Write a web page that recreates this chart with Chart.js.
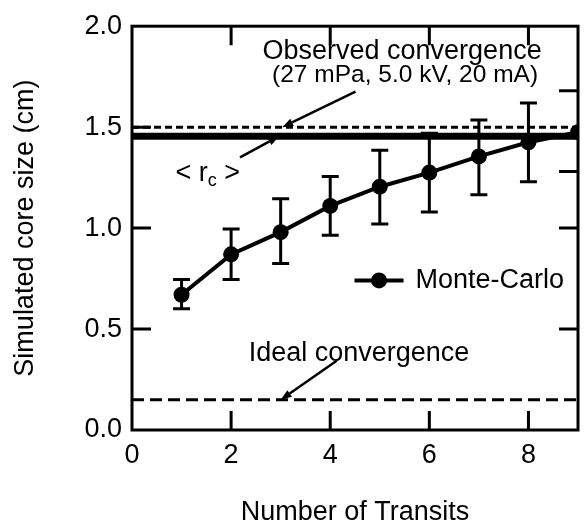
<!DOCTYPE html>
<html>
<head>
<meta charset="utf-8">
<script src="https://cdn.jsdelivr.net/npm/chart.js@4/dist/chart.umd.min.js"></script>
<style>
  html, body { margin: 0; padding: 0; background: #fff; }
  #wrap { width: 586px; height: 531px; position: relative; }
</style>
</head>
<body>
<div id="wrap"><canvas id="c"></canvas></div>
<script>
// Monte-Carlo simulated core size versus number of transits
const transits = [1, 2, 3, 4, 5, 6, 7, 8, 9];
const coreSize = [0.67, 0.87, 0.98, 1.11, 1.205, 1.275, 1.355, 1.425, 1.475];
const errLow   = [0.60, 0.745, 0.825, 0.965, 1.02, 1.08, 1.165, 1.23, null];
const errHigh  = [0.745, 0.995, 1.145, 1.255, 1.385, 1.47, 1.535, 1.62, null];

// reference levels
const observedLevel = 1.5;   // observed convergence
const meanCoreLevel = 1.455; // <r_c>
const idealLevel = 0.15;     // ideal convergence

// axis ticks
const xTicks = [0, 2, 4, 6, 8];
const yTicks = [0, 0.5, 1.0, 1.5, 2.0];
const topTickValues = [2, 4, 6, 8];
const bottomTickValues = [2, 4, 6, 8];
const leftTickValues = [0.5, 1.0, 1.5];
const rightTickValues = [0.5, 1.0, 1.28, 1.68];

const FONT = "'Liberation Sans', Arimo, Arial, Helvetica, sans-serif";
const SIZE = 27;

// text labels and leader arrows, placed in data units
const notes = [
  { text: 'Observed convergence', x: 5.45, y: 1.873, size: SIZE },
  { text: '(27 mPa, 5.0 kV, 20 mA)', x: 5.51, y: 1.758, size: 24.5 },
  { text: 'Ideal convergence', x: 4.58, y: 0.378, size: SIZE }
];
const arrows = [
  { from: [4.51, 1.676], to: [3.03, 1.5] },
  { from: [2.18, 1.35], to: [2.97, 1.455] },
  { from: [4.13, 0.343], to: [3.0, 0.15] }
];
const rcLabel = { x: 1.53, y: 1.27 };
const legendSpot = { x0: 4.49, x1: 5.48, y: 0.741, textX: 5.72 };

const levelLine = (v) => [{ x: 0, y: v }, { x: 9, y: v }];

const decor = {
  id: 'decor',
  beforeDatasetsDraw(chart) {
    const ctx = chart.ctx, xs = chart.scales.x, ys = chart.scales.y;
    // error bars
    ctx.save();
    ctx.strokeStyle = '#000';
    ctx.lineWidth = 3;
    transits.forEach((t, i) => {
      if (errLow[i] == null) return;
      const px = xs.getPixelForValue(t);
      const lo = ys.getPixelForValue(errLow[i]);
      const hi = ys.getPixelForValue(errHigh[i]);
      ctx.beginPath();
      ctx.moveTo(px, lo); ctx.lineTo(px, hi);
      ctx.moveTo(px - 8.5, lo); ctx.lineTo(px + 8.5, lo);
      ctx.moveTo(px - 8.5, hi); ctx.lineTo(px + 8.5, hi);
      ctx.stroke();
    });
    ctx.restore();
  },
  afterDatasetsDraw(chart) {
    const ctx = chart.ctx, xs = chart.scales.x, ys = chart.scales.y;
    const a = chart.chartArea;
    ctx.save();
    ctx.strokeStyle = '#000';
    ctx.fillStyle = '#000';
    // frame
    ctx.lineWidth = 3;
    ctx.strokeRect(a.left, a.top, a.right - a.left, a.bottom - a.top);
    // inward ticks
    const L = 19;
    ctx.beginPath();
    bottomTickValues.forEach(v => { const p = xs.getPixelForValue(v); ctx.moveTo(p, a.bottom); ctx.lineTo(p, a.bottom - L); });
    topTickValues.forEach(v => { const p = xs.getPixelForValue(v); ctx.moveTo(p, a.top); ctx.lineTo(p, a.top + L); });
    leftTickValues.forEach(v => { const p = ys.getPixelForValue(v); ctx.moveTo(a.left, p); ctx.lineTo(a.left + L, p); });
    rightTickValues.forEach(v => { const p = ys.getPixelForValue(v); ctx.moveTo(a.right, p); ctx.lineTo(a.right - L, p); });
    ctx.stroke();

    // text labels
    ctx.textBaseline = 'middle';
    ctx.textAlign = 'center';
    notes.forEach(n => {
      ctx.font = n.size + 'px ' + FONT;
      ctx.fillText(n.text, xs.getPixelForValue(n.x), ys.getPixelForValue(n.y));
    });

    // <r_c> label with subscript
    {
      const cx = xs.getPixelForValue(rcLabel.x), cy = ys.getPixelForValue(rcLabel.y);
      const p1 = '< r', p3 = ' >';
      ctx.font = '18px ' + FONT;
      const w2 = ctx.measureText('c').width;
      ctx.font = SIZE + 'px ' + FONT;
      const w1 = ctx.measureText(p1).width, w3 = ctx.measureText(p3).width;
      let x = cx - (w1 + w2 + w3) / 2;
      ctx.textAlign = 'left';
      ctx.fillText(p1, x, cy); x += w1;
      ctx.font = '18px ' + FONT;
      ctx.fillText('c', x, cy + 7); x += w2;
      ctx.font = SIZE + 'px ' + FONT;
      ctx.fillText(p3, x, cy);
    }

    // leader arrows
    ctx.lineWidth = 2.5;
    arrows.forEach(ar => {
      const x0 = xs.getPixelForValue(ar.from[0]), y0 = ys.getPixelForValue(ar.from[1]);
      const x1 = xs.getPixelForValue(ar.to[0]), y1 = ys.getPixelForValue(ar.to[1]);
      const ang = Math.atan2(y1 - y0, x1 - x0);
      const hl = 11, hw = 4;
      const bx = x1 - hl * Math.cos(ang), by = y1 - hl * Math.sin(ang);
      ctx.beginPath();
      ctx.moveTo(x0, y0); ctx.lineTo(bx, by);
      ctx.stroke();
      ctx.beginPath();
      ctx.moveTo(x1, y1);
      ctx.lineTo(bx + hw * Math.sin(ang), by - hw * Math.cos(ang));
      ctx.lineTo(bx - hw * Math.sin(ang), by + hw * Math.cos(ang));
      ctx.closePath();
      ctx.fill();
    });

    // legend entry
    {
      const ds = chart.data.datasets[0];
      const lx0 = xs.getPixelForValue(legendSpot.x0), lx1 = xs.getPixelForValue(legendSpot.x1);
      const ly = ys.getPixelForValue(legendSpot.y);
      ctx.lineWidth = ds.borderWidth;
      ctx.beginPath(); ctx.moveTo(lx0, ly); ctx.lineTo(lx1, ly); ctx.stroke();
      ctx.beginPath(); ctx.arc((lx0 + lx1) / 2, ly, ds.pointRadius, 0, Math.PI * 2); ctx.fill();
      ctx.font = SIZE + 'px ' + FONT;
      ctx.textAlign = 'left';
      ctx.fillText(ds.label, xs.getPixelForValue(legendSpot.textX), ly);
    }
    ctx.restore();
  }
};

new Chart(document.getElementById('c'), {
  type: 'line',
  data: {
    datasets: [
      {
        label: 'Monte-Carlo',
        data: transits.map((t, i) => ({ x: t, y: coreSize[i] })),
        borderColor: '#000',
        backgroundColor: '#000',
        borderWidth: 4,
        pointRadius: 8,
        pointBackgroundColor: '#000',
        pointBorderWidth: 0,
        tension: 0
      },
      {
        label: 'Observed convergence',
        data: levelLine(observedLevel),
        borderColor: '#000',
        borderWidth: 3,
        borderDash: [7, 4],
        pointRadius: 0
      },
      {
        label: '<rc>',
        data: levelLine(meanCoreLevel),
        borderColor: '#000',
        borderWidth: 7,
        pointRadius: 0
      },
      {
        label: 'Ideal convergence',
        data: levelLine(idealLevel),
        borderColor: '#000',
        borderWidth: 3,
        borderDash: [12, 6],
        pointRadius: 0
      }
    ]
  },
  options: {
    responsive: true,
    maintainAspectRatio: false,
    animation: false,
    layout: { padding: { top: 20, right: 1, left: 0, bottom: 0 } },
    plugins: { legend: { display: false }, tooltip: { enabled: false } },
    scales: {
      x: {
        type: 'linear',
        min: 0, max: 9,
        afterBuildTicks: s => { s.ticks = xTicks.map(v => ({ value: v })); },
        afterFit: s => { s.height = 101; },
        grid: { display: false, drawTicks: false },
        border: { display: false },
        ticks: {
          color: '#000', padding: 9, maxRotation: 0,
          font: { family: FONT, size: SIZE },
          callback: v => String(v)
        },
        title: {
          display: true, text: 'Number of Transits', color: '#000',
          font: { family: FONT, size: SIZE }, padding: { top: 0, bottom: 2 }
        }
      },
      y: {
        min: 0, max: 2,
        afterBuildTicks: s => { s.ticks = yTicks.map(v => ({ value: v })); },
        afterFit: s => { s.width = 132; },
        grid: { display: false, drawTicks: false },
        border: { display: false },
        ticks: {
          color: '#000', padding: 10,
          font: { family: FONT, size: SIZE },
          callback: v => Number(v).toFixed(1)
        },
        title: {
          display: true, text: 'Simulated core size (cm)', color: '#000',
          font: { family: FONT, size: SIZE }, padding: { top: 9, bottom: 0 }
        }
      }
    }
  },
  plugins: [decor]
});
</script>
</body>
</html>
